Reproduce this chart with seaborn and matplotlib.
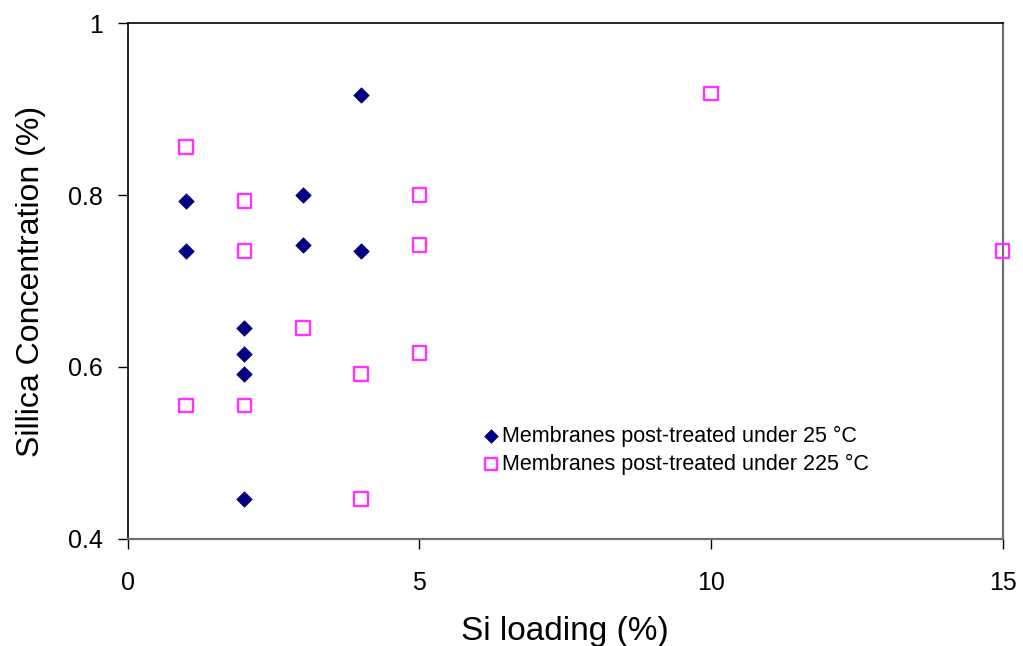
import matplotlib
matplotlib.use("Agg")
import matplotlib.pyplot as plt
import seaborn as sns
import pandas as pd

# Si loading (%) and silica concentration (%) for each membrane group
si_25 = [1, 1, 2, 2, 2, 2, 3, 3, 4, 4]
conc_25 = [0.793, 0.735, 0.645, 0.615, 0.592, 0.446, 0.800, 0.742, 0.917, 0.735]

si_225 = [1, 1, 2, 2, 2, 3, 4, 4, 5, 5, 5, 10, 15]
conc_225 = [0.856, 0.555, 0.793, 0.735, 0.555, 0.645, 0.592, 0.446,
            0.800, 0.742, 0.616, 0.918, 0.735]

label_25 = "Membranes post-treated under 25 °C"
label_225 = "Membranes post-treated under 225 °C"

x_ticks = [0, 5, 10, 15]
y_ticks = [0.4, 0.6, 0.8, 1.0]
y_tick_labels = ["0.4", "0.6", "0.8", "1"]

sns.set_theme(style="white")
plt.rcParams["font.family"] = ["Liberation Sans", "DejaVu Sans"]
plt.rcParams["text.color"] = "black"

df25 = pd.DataFrame({"x": si_25, "y": conc_25})
df225 = pd.DataFrame({"x": si_225, "y": conc_225})

fig = plt.figure(figsize=(10.23, 6.46), dpi=100)
ax = fig.add_axes([0.125, 0.166, 0.855, 0.798])

sns.scatterplot(data=df25, x="x", y="y", ax=ax, marker="D", s=62,
                color="#000080", edgecolor="#000080", linewidth=0.5,
                label=label_25, zorder=3, clip_on=False)
sns.scatterplot(data=df225, x="x", y="y", ax=ax, marker="s", s=95,
                facecolor="none", edgecolor="#FF33FF", linewidth=1.7,
                label=label_225, zorder=3, clip_on=False)

ax.set_xlim(0, 15)
ax.set_ylim(0.4, 1.0)
ax.set_xticks(x_ticks)
ax.set_xticklabels([str(t) for t in x_ticks])
ax.set_yticks(y_ticks)
ax.set_yticklabels(y_tick_labels)

ax.tick_params(axis="both", which="major", direction="out", length=7,
               width=1, color="black", labelsize=18, labelcolor="black")
ax.tick_params(axis="x", pad=16)
ax.tick_params(axis="y", pad=11)
ax.xaxis.set_ticks_position("bottom")
ax.yaxis.set_ticks_position("left")

for side in ["left", "top"]:
    ax.spines[side].set_color("black")
    ax.spines[side].set_linewidth(1.2)
for side in ["bottom", "right"]:
    ax.spines[side].set_color("#707070")
    ax.spines[side].set_linewidth(1.6)

ax.set_xlabel("Si loading (%)", fontsize=24, color="black", labelpad=15)
ax.set_ylabel("Sillica Concentration (%)", fontsize=23, color="black", labelpad=16)

leg = ax.legend(loc="upper left", bbox_to_anchor=(0.395, 0.236), frameon=False,
                fontsize=15.5, handletextpad=0.12, labelspacing=0.33,
                borderaxespad=0, handlelength=0.8, markerscale=0.88)
for txt in leg.get_texts():
    txt.set_color("black")

fig.savefig("out.png", dpi=100, facecolor="white")
